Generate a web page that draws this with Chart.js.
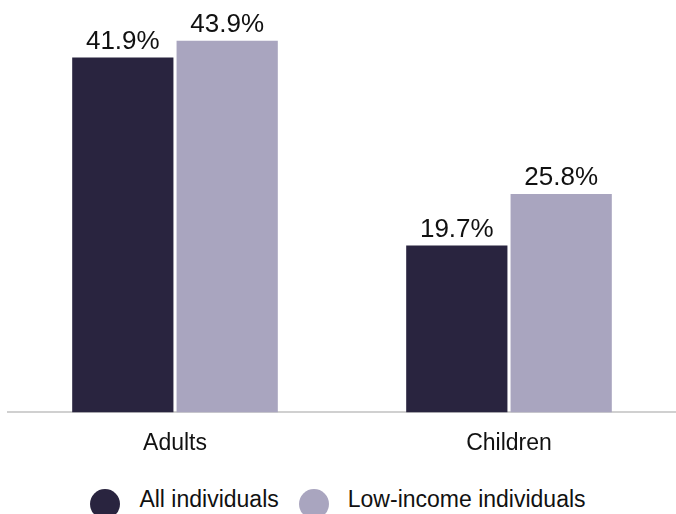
<!DOCTYPE html>
<html>
<head>
<meta charset="utf-8">
<script src="https://cdn.jsdelivr.net/npm/chart.js@4"></script>
<style>
    html, body { margin: 0; padding: 0; background: #fff; overflow: hidden; }
    #wrap { width: 676px; height: 466px; position: relative; }
    #legend {
        position: absolute; left: 0; top: 484px; width: 676px;
        display: flex; justify-content: center; align-items: center;
        font: 23px "Liberation Sans", Arial, sans-serif; color: #111;
    }
    #legend .item { display: flex; align-items: center; margin: 0 10px; }
    #legend .dot { width: 30px; height: 30px; border-radius: 50%; margin-right: 19px; position: relative; top: 5px; }
</style>
</head>
<body>
<div id="wrap"><canvas id="obesityChart"></canvas></div>
<div id="legend"></div>
<script>
const categories = ['Adults', 'Children'];
const seriesNames = ['All individuals', 'Low-income individuals'];
const seriesColors = ['#29243f', '#a9a5bf'];
const allIndividuals = [41.9, 19.7];
const lowIncome = [43.9, 25.8];

const barLabels = {
    id: 'barLabels',
    afterDatasetsDraw(chart) {
        const ctx = chart.ctx;
        ctx.save();
        ctx.font = '26px "Liberation Sans", Arial, sans-serif';
        ctx.fillStyle = '#111';
        ctx.textAlign = 'center';
        ctx.textBaseline = 'bottom';
        chart.data.datasets.forEach((ds, i) => {
            chart.getDatasetMeta(i).data.forEach((bar, j) => {
                ctx.fillText(ds.data[j].toFixed(1) + '%', bar.x, bar.y - 3);
            });
        });
        ctx.restore();
    }
};

const chart = new Chart(document.getElementById('obesityChart'), {
    type: 'bar',
    data: {
        labels: categories,
        datasets: [{
                label: seriesNames[0],
                data: allIndividuals,
                backgroundColor: seriesColors[0],
                categoryPercentage: 0.625,
                barPercentage: 0.97
            }, {
                label: seriesNames[1],
                data: lowIncome,
                backgroundColor: seriesColors[1],
                categoryPercentage: 0.625,
                barPercentage: 0.97
            }]
    },
    options: {
        responsive: true,
        maintainAspectRatio: false,
        animation: false,
        layout: {
            padding: { left: 8, right: 0, top: 0, bottom: 0 }
        },
        plugins: {
            legend: { display: false },
            tooltip: { enabled: false }
        },
        scales: {
            x: {
                grid: { display: false },
                border: { color: '#d0d0d0', width: 2 },
                ticks: {
                    color: '#111',
                    padding: 9,
                    font: { family: '"Liberation Sans", Arial, sans-serif', size: 23 }
                }
            },
            y: {
                display: false,
                min: 0,
                max: 48.7
            }
        }
    },
    plugins: [barLabels]
});

// legend built from the same series names/colours
const legendEl = document.getElementById('legend');
chart.data.datasets.forEach(ds => {
    const item = document.createElement('span');
    item.className = 'item';
    item.innerHTML = '<span class="dot" style="background:' + ds.backgroundColor + '"></span>' + ds.label;
    legendEl.appendChild(item);
});
</script>
</body>
</html>
